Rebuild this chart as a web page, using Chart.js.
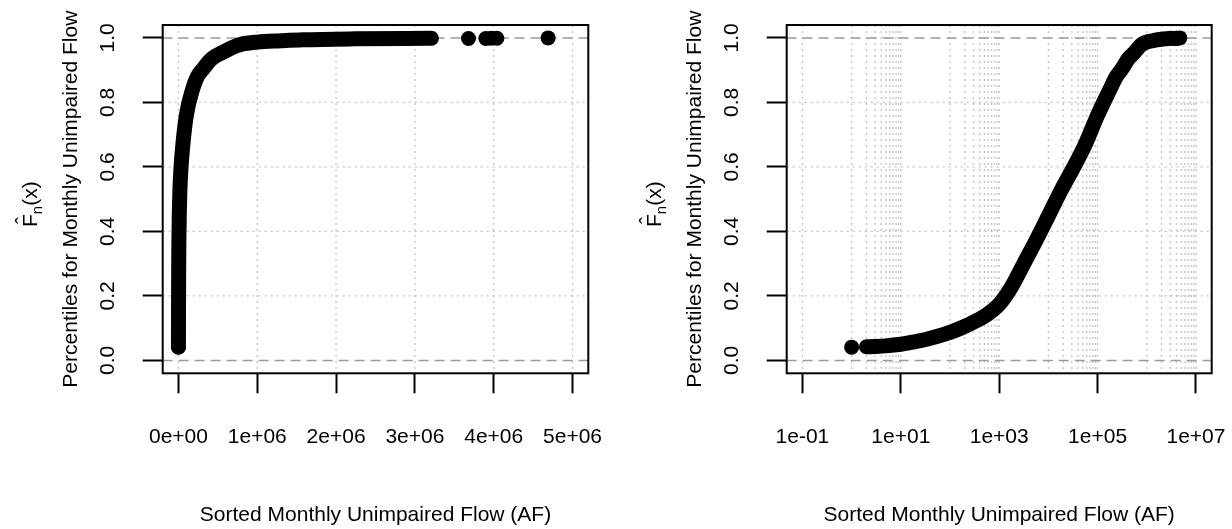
<!DOCTYPE html>
<html>
<head>
<meta charset="utf-8">
<script src="https://cdn.jsdelivr.net/npm/chart.js@4/dist/chart.umd.min.js"></script>
<style>
html, body { margin: 0; padding: 0; background: #fff; }
#wrap { position: relative; width: 1232px; height: 529px; }
.cv { position: absolute; top: 0; width: 616px; height: 529px; }
</style>
</head>
<body>
<div id="wrap">
  <div class="cv" style="left:0"><canvas id="ecdf_lin"></canvas></div>
  <div class="cv" style="left:616px"><canvas id="ecdf_log"></canvas></div>
</div>
<script>
// sorted monthly flow (AF) and its percentile
var flowAF = [2, 3, 5, 10, 18, 32, 56, 100, 178, 316, 562, 1000, 1780, 3160, 5620,
    10000, 17800, 31600, 56200, 100000, 178000, 240000, 316000, 420000, 562000,
    680000, 794000, 1000000, 1300000, 1580000, 2240000, 3210000];
var percentile = [0.042, 0.043, 0.045, 0.05, 0.057, 0.065, 0.075, 0.087, 0.102, 0.12, 0.142,
    0.174, 0.228, 0.3, 0.372,
    0.448, 0.525, 0.595, 0.67, 0.76, 0.84, 0.88, 0.905, 0.935, 0.955,
    0.97, 0.98, 0.987, 0.991, 0.994, 0.997, 0.999];
// lone points (lowest value and the biggest months)
var loneFlowAF = [1, 3680000, 3900000, 3970000, 4040000, 4690000];
var lonePercentile = [0.041, 0.998, 0.998, 0.999, 0.999, 1.0];

var yTicks = [0, 0.2, 0.4, 0.6, 0.8, 1.0];
var linTicks = [0, 1e6, 2e6, 3e6, 4e6, 5e6];
var logTicks = [0.1, 10, 1000, 1e5, 1e7];
var refLines = [0, 1];
var yGrid = [0.2, 0.4, 0.6, 0.8];
var logGridDecades = [0, 2, 4, 6];

var fontFamily = '"Liberation Sans", Arial, Helvetica, sans-serif';
var fs = 21;
Chart.defaults.font.family = fontFamily;
Chart.defaults.font.size = fs;
Chart.defaults.color = '#000';

function sciLabel(v) {
    if (v === 0) return '0e+00';
    var e = Math.floor(Math.log10(v) + 1e-9);
    var m = Math.round(v / Math.pow(10, e));
    var a = Math.abs(e);
    return m + 'e' + (e < 0 ? '-' : '+') + (a < 10 ? '0' + a : a);
}

function logGridLines() {
    var out = [0.1];
    logGridDecades.forEach(function (d) {
        for (var j = 1; j <= 10; j++) out.push(j * Math.pow(10, d));
    });
    return out;
}

function rPlotPlugin(xGrid) {
    return {
        id: 'rplot',
        beforeDatasetsDraw: function (chart) {
            var ctx = chart.ctx, a = chart.chartArea;
            var xs = chart.scales.x, ys = chart.scales.y;
            ctx.save();
            ctx.beginPath();
            ctx.rect(a.left, a.top, a.right - a.left, a.bottom - a.top);
            ctx.clip();
            // dotted grid
            ctx.strokeStyle = '#c2c2c2';
            ctx.lineWidth = 1.3;
            ctx.setLineDash([2, 4]);
            xGrid.forEach(function (v) {
                var p = xs.getPixelForValue(v);
                ctx.beginPath(); ctx.moveTo(p, a.top); ctx.lineTo(p, a.bottom); ctx.stroke();
            });
            yGrid.forEach(function (v) {
                var p = ys.getPixelForValue(v);
                ctx.beginPath(); ctx.moveTo(a.left, p); ctx.lineTo(a.right, p); ctx.stroke();
            });
            // dashed lines at 0 and 1
            ctx.strokeStyle = '#9a9a9a';
            ctx.lineWidth = 1.5;
            ctx.setLineDash([10, 6]);
            refLines.forEach(function (v) {
                var p = ys.getPixelForValue(v);
                ctx.beginPath(); ctx.moveTo(a.left, p); ctx.lineTo(a.right, p); ctx.stroke();
            });
            ctx.restore();
        },
        afterDraw: function (chart) {
            var ctx = chart.ctx, a = chart.chartArea;
            ctx.save();
            ctx.strokeStyle = '#000';
            ctx.lineWidth = 2;
            ctx.strokeRect(a.left, a.top, a.right - a.left, a.bottom - a.top);
            // F-hat n (x) label
            ctx.translate(a.left - 133, (a.top + a.bottom) / 2 + 5);
            ctx.rotate(-Math.PI / 2);
            ctx.fillStyle = '#000';
            ctx.textBaseline = 'alphabetic';
            ctx.textAlign = 'left';
            var big = fs + 'px ' + fontFamily, small = '15px ' + fontFamily;
            ctx.font = big;
            var wF = ctx.measureText('F').width, wX = ctx.measureText('(x)').width;
            ctx.font = small;
            var wN = ctx.measureText('n').width;
            var x0 = -(wF + wN + wX) / 2;
            ctx.font = big;
            ctx.fillText('F', x0, 7.5);
            ctx.textAlign = 'center';
            ctx.fillText('\u02C6', x0 + wF / 2, 0);
            ctx.textAlign = 'left';
            ctx.font = small;
            ctx.fillText('n', x0 + wF, 12.5);
            ctx.font = big;
            ctx.fillText('(x)', x0 + wF + wN, 7.5);
            ctx.restore();
        }
    };
}

function makeChart(id, isLog, rightPad, yWidth) {
    var curve = flowAF.map(function (x, i) { return { x: x, y: percentile[i] }; });
    var lone = loneFlowAF.map(function (x, i) { return { x: x, y: lonePercentile[i] }; });
    var tickVals = isLog ? logTicks : linTicks;
    var xScale = {
        type: isLog ? 'logarithmic' : 'linear',
        min: isLog ? Math.pow(10, -1.32) : -0.2e6,
        max: isLog ? Math.pow(10, 7.32) : 5.2e6,
        afterBuildTicks: function (s) { s.ticks = tickVals.map(function (v) { return { value: v }; }); },
        afterFit: function (s) { s.height = 155.7; s.paddingLeft = 0; s.paddingRight = 0; },
        grid: { drawOnChartArea: false, drawTicks: true, tickLength: 20, tickWidth: 2, tickColor: '#000' },
        border: { display: false },
        ticks: {
            autoSkip: false, minRotation: 0, maxRotation: 0, padding: 31,
            callback: function (v) { return sciLabel(v); }
        },
        title: { display: true, text: 'Sorted Monthly Unimpaired Flow (AF)', padding: { top: 0, bottom: 1.5 } }
    };
    var yScale = {
        type: 'linear',
        min: -0.04,
        max: 1.04,
        afterBuildTicks: function (s) { s.ticks = yTicks.map(function (v) { return { value: v }; }); },
        afterFit: function (s) { s.width = yWidth; s.paddingTop = 0; s.paddingBottom = 0; },
        grid: { drawOnChartArea: false, drawTicks: true, tickLength: 20, tickWidth: 2, tickColor: '#000' },
        border: { display: false },
        ticks: {
            minRotation: 90, maxRotation: 90, crossAlign: 'center', padding: 20,
            callback: function (v) { return v.toFixed(1); }
        },
        title: { display: true, text: 'Percentiles for Monthly Unimpaired Flow', padding: { top: yWidth - 91 - 12.6, bottom: 0 } }
    };
    return new Chart(document.getElementById(id).getContext('2d'), {
        type: 'scatter',
        data: {
            datasets: [{
                data: curve,
                showLine: true,
                borderColor: '#000',
                borderWidth: 15,
                borderCapStyle: 'round',
                borderJoinStyle: 'round',
                pointRadius: 0,
                pointHoverRadius: 0,
                cubicInterpolationMode: 'monotone'
            }, {
                data: lone,
                showLine: false,
                pointRadius: 7.5,
                pointHoverRadius: 7.5,
                backgroundColor: '#000',
                borderWidth: 0
            }]
        },
        options: {
            animation: false,
            responsive: true,
            maintainAspectRatio: false,
            events: [],
            layout: { padding: { top: 25, right: rightPad, bottom: 0, left: 0 } },
            plugins: { legend: { display: false }, tooltip: { enabled: false } },
            scales: { x: xScale, y: yScale }
        },
        plugins: [rPlotPlugin(isLog ? logGridLines() : linTicks)]
    });
}

makeChart('ecdf_lin', false, 27.7, 162.7);
makeChart('ecdf_log', true, 20.3, 170.7);
</script>
</body>
</html>
